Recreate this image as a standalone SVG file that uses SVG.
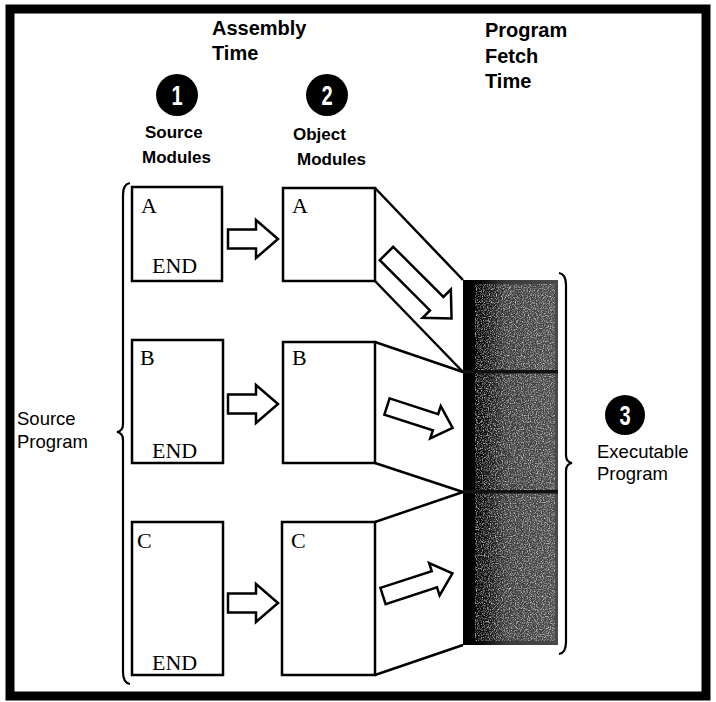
<svg xmlns="http://www.w3.org/2000/svg" width="716" height="702" viewBox="0 0 716 702">
<style>
.frame{fill:none;stroke:#000;stroke-width:9}
.box{fill:#fff;stroke:#000;stroke-width:2.5}
.mono{font-family:"Liberation Serif","Times New Roman",serif;font-size:22px;fill:#000}
.hdr{font-family:"Liberation Sans",Arial,sans-serif;font-weight:bold;font-size:20px;fill:#000}
.lbl{font-family:"Liberation Sans",Arial,sans-serif;font-weight:bold;font-size:17px;fill:#000}
.reg{font-family:"Liberation Sans",Arial,sans-serif;font-size:18.5px;fill:#000}
.num{font-family:"Liberation Sans",Arial,sans-serif;font-weight:bold;font-size:28px;fill:#fff;text-anchor:middle}
.arrow{fill:#fff;stroke:#000;stroke-width:2.5;stroke-linejoin:miter}
.line{fill:none;stroke:#000;stroke-width:2.5}
.brace{fill:none;stroke:#000;stroke-width:2.2}
</style>
<defs>
<linearGradient id="shade" x1="0" y1="0" x2="1" y2="0">
<stop offset="0" stop-color="#000"/>
<stop offset="0.18" stop-color="#050505"/>
<stop offset="0.45" stop-color="#3a3a3a"/>
<stop offset="1" stop-color="#4a4a4a"/>
</linearGradient>
<filter id="grain" x="0" y="0" width="100%" height="100%">
<feTurbulence type="fractalNoise" baseFrequency="0.85" numOctaves="2" seed="4" result="n"/>
<feColorMatrix in="n" type="matrix" values="0 0 0 0 0.75  0 0 0 0 0.75  0 0 0 0 0.75  2.2 0 0 0 -0.95" result="g"/>
<feComposite in="g" in2="SourceGraphic" operator="in"/>
</filter>
</defs>
<rect width="716" height="702" fill="#fff"/>
<rect class="frame" x="10" y="9" width="696" height="687"/>

<g id="header-assembly">
<text class="hdr" x="212" y="35">Assembly</text>
<text class="hdr" x="212" y="60">Time</text>
</g>
<g id="header-fetch">
<text class="hdr" x="485" y="37">Program</text>
<text class="hdr" x="485" y="63">Fetch</text>
<text class="hdr" x="485" y="88">Time</text>
</g>

<g id="label-source-modules">
<circle cx="177" cy="95" r="21" fill="#000"/>
<text class="num" transform="translate(177,105) scale(0.72,1)">1</text>
<text class="lbl" x="145" y="138">Source</text>
<text class="lbl" x="142" y="163">Modules</text>
</g>
<g id="label-object-modules">
<circle cx="327" cy="95" r="21" fill="#000"/>
<text class="num" transform="translate(327,105) scale(0.72,1)">2</text>
<text class="lbl" x="293" y="140">Object</text>
<text class="lbl" x="297" y="165">Modules</text>
</g>
<g id="label-source-program">
<text class="reg" x="17" y="425">Source</text>
<text class="reg" x="17" y="448">Program</text>
<path class="brace" d="M130,183 Q123,184 123,195 L123,424 Q123,431 117,432 Q123,433 123,440 L123,672 Q123,683 130,684"/>
</g>
<g id="label-executable">
<circle cx="625" cy="415" r="20" fill="#000"/>
<text class="num" transform="translate(625,425) scale(0.72,1)">3</text>
<text class="reg" x="597" y="458">Executable</text>
<text class="reg" x="597" y="480">Program</text>
<path class="brace" d="M559,273 Q566,274 566,285 L566,455 Q566,462 572,463 Q566,464 566,471 L566,642 Q566,653 559,654"/>
</g>

<g id="connectors">
<line class="line" x1="375" y1="188" x2="463" y2="280"/>
<line class="line" x1="375" y1="281" x2="463" y2="372"/>
<line class="line" x1="375" y1="342" x2="463" y2="372"/>
<line class="line" x1="375" y1="463" x2="463" y2="492"/>
<line class="line" x1="375" y1="522" x2="463" y2="492"/>
<line class="line" x1="375" y1="675" x2="463" y2="645"/>
<polygon class="arrow" transform="translate(228,239)" points="0,-9.5 28,-9.5 28,-19 50,0 28,19 28,9.5 0,9.5"/>
<polygon class="arrow" transform="translate(228,404)" points="0,-9.5 28,-9.5 28,-19 50,0 28,19 28,9.5 0,9.5"/>
<polygon class="arrow" transform="translate(228,603)" points="0,-9.5 28,-9.5 28,-19 50,0 28,19 28,9.5 0,9.5"/>
<polygon class="arrow" transform="translate(386.5,253.5) rotate(45)" points="0,-9.5 71,-9.5 71,-20 92,0 71,20 71,9.5 0,9.5"/>
<polygon class="arrow" transform="translate(387,406.5) rotate(18)" points="0,-8.5 51,-8.5 51,-17 69,0 51,17 51,8.5 0,8.5"/>
<polygon class="arrow" transform="translate(383,596) rotate(-18)" points="0,-8.5 54,-8.5 54,-17 73,0 54,17 54,8.5 0,8.5"/>
</g>

<g id="source-a">
<rect class="box" x="132" y="187" width="90" height="94"/>
<text class="mono" x="141" y="213">A</text>
<text class="mono" x="152" y="273">END</text>
</g>
<g id="object-a">
<rect class="box" x="283" y="188" width="92" height="93"/>
<text class="mono" x="292" y="213">A</text>
</g>
<g id="source-b">
<rect class="box" x="132" y="340" width="91" height="123"/>
<text class="mono" x="140" y="365">B</text>
<text class="mono" x="152" y="458">END</text>
</g>
<g id="object-b">
<rect class="box" x="283" y="342" width="92" height="121"/>
<text class="mono" x="292" y="365">B</text>
</g>
<g id="source-c">
<rect class="box" x="132" y="522" width="91" height="153"/>
<text class="mono" x="137" y="548">C</text>
<text class="mono" x="152" y="670">END</text>
</g>
<g id="object-c">
<rect class="box" x="282" y="522" width="93" height="153"/>
<text class="mono" x="291" y="548">C</text>
</g>

<g id="executable-program">
<rect x="463" y="280" width="95" height="365" fill="url(#shade)"/>
<rect x="475" y="284" width="80" height="357" fill="#000" filter="url(#grain)"/>
<rect x="463" y="370" width="95" height="3.5" fill="#111"/>
<rect x="463" y="490" width="95" height="3.5" fill="#111"/>
</g>
</svg>
